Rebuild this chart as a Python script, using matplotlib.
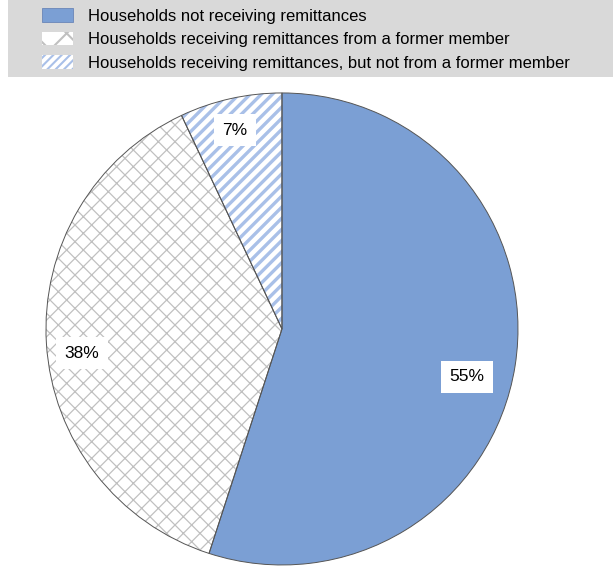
import matplotlib.pyplot as plt
from matplotlib.patches import Patch, Rectangle

# Share of households by remittance status
labels = ['Households not receiving remittances',
          'Households receiving remittances from a former member',
          'Households receiving remittances, but not from a former member']
shares = [55, 38, 7]
pct_text = ['55%', '38%', '7%']

blue = '#7b9fd4'
stripe = '#a9c0e8'
grid = '#c0c0c0'

plt.rcParams['font.family'] = ['Liberation Sans', 'DejaVu Sans']

fig = plt.figure(figsize=(6.13, 5.66), dpi=100)

# grey legend strip along the top
fig.patches.append(Rectangle((8 / 613, 1 - 77 / 566), 1, 77 / 566,
                             transform=fig.transFigure, facecolor='#d9d9d9',
                             edgecolor='none', zorder=0))

ax = fig.add_axes([0.075, 0.0018, 0.77, 0.834])
ax.set_aspect('equal')

# fills first (hatch colour comes from edgecolor), outlines after
plt.rcParams['hatch.linewidth'] = 0.9
wedges, _ = ax.pie(shares, startangle=90, counterclock=False, radius=1)
wedges[0].set_facecolor(blue)
wedges[0].set_edgecolor('none')
wedges[1].set_facecolor('white')
wedges[1].set_edgecolor(grid)
wedges[1].set_hatch('xx')
wedges[1].set_linewidth(0)
wedges[2].set_facecolor('white')
wedges[2].set_edgecolor(stripe)
wedges[2].set_hatch('///')
wedges[2].set_linewidth(0)
if hasattr(wedges[2], 'set_hatch_linewidth'):
    wedges[2].set_hatch_linewidth(2.4)

outline, _ = ax.pie(shares, startangle=90, counterclock=False, radius=1,
                    wedgeprops=dict(fill=False, edgecolor='#555555', linewidth=0.7))

label_pos = [(0.784, -0.203), (-0.847, -0.102), (-0.2, 0.843)]
for (x, y), t in zip(label_pos, pct_text):
    ax.text(x, y, t, ha='center', va='center', fontsize=12.5, color='black',
            bbox=dict(facecolor='white', edgecolor='none', pad=6))

ax.set_xlim(-1.0, 1.0)
ax.set_ylim(-1.0, 1.0)
ax.axis('off')

handles = [Patch(facecolor=blue, edgecolor='#6a86b8', linewidth=0.6),
           Patch(facecolor='white', edgecolor=grid, hatch='x', linewidth=0),
           Patch(facecolor='white', edgecolor=stripe, hatch='////', linewidth=0)]
leg = fig.legend(handles, labels, loc='upper left', bbox_to_anchor=(42 / 613, 1 - 8 / 566),
                 frameon=False, fontsize=12, handlelength=1.86, handleheight=0.9,
                 handletextpad=0.9, labelspacing=0.48, borderaxespad=0, borderpad=0)
for h in leg.legend_handles[1:]:
    if hasattr(h, 'set_hatch_linewidth'):
        h.set_hatch_linewidth(1.5)

fig.savefig('out.png', dpi=100)
